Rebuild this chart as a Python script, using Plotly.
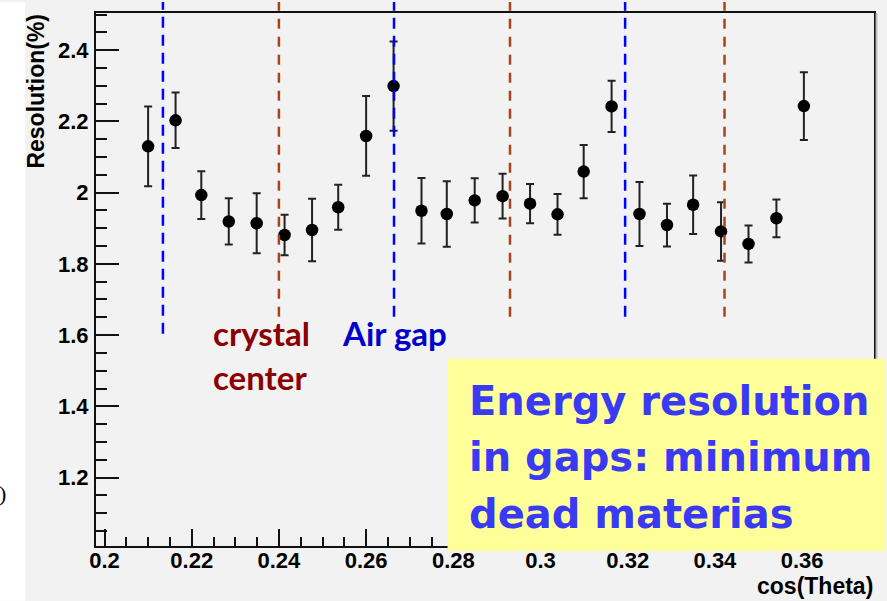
import plotly.graph_objects as go

# Energy resolution versus cos(Theta) across the barrel crystals
cos_theta = [0.2100, 0.2163, 0.2222, 0.2285, 0.2349, 0.2413, 0.2476, 0.2536, 0.2600, 0.2663,
             0.2727, 0.2785, 0.2849, 0.2913, 0.2976, 0.3039, 0.3099, 0.3163, 0.3227, 0.3290,
             0.3350, 0.3414, 0.3477, 0.3541, 0.3604]
resolution = [2.130, 2.203, 1.993, 1.919, 1.914, 1.881, 1.895, 1.959, 2.159, 2.299,
              1.949, 1.940, 1.978, 1.990, 1.969, 1.939, 2.059, 2.242, 1.940, 1.909,
              1.966, 1.891, 1.856, 1.928, 2.243]
resolution_err = [0.112, 0.078, 0.067, 0.065, 0.084, 0.057, 0.088, 0.063, 0.112, 0.125,
                  0.092, 0.092, 0.062, 0.063, 0.055, 0.057, 0.075, 0.072, 0.090, 0.060,
                  0.082, 0.082, 0.052, 0.053, 0.095]

# positions of the air gaps and of the crystal centres
air_gaps = [0.2134, 0.2664, 0.3194]
crystal_centres = [0.2400, 0.2930, 0.3422]

x_ticks = [0.20, 0.22, 0.24, 0.26, 0.28, 0.30, 0.32, 0.34, 0.36]
x_tick_labels = ["0.2", "0.22", "0.24", "0.26", "0.28", "0.3", "0.32", "0.34", "0.36"]
y_ticks = [1.2, 1.4, 1.6, 1.8, 2.0, 2.2, 2.4]
y_tick_labels = ["1.2", "1.4", "1.6", "1.8", "2", "2.2", "2.4"]

# canvas geometry (pixels)
W, H = 887, 601
ML, MR, MT, MB = 96, 12, 11, 55
PW, PH = W - ML - MR, H - MT - MB


def fx(p):
    """pixel column -> paper x"""
    return (p - ML) / PW


def fy(p):
    """pixel row -> paper y"""
    return (H - MB - p) / PH


BG = "#f2f2f2"
GAP_BLUE = "#0000ff"
CENTRE_BROWN = "#a9441a"

fig = go.Figure()
fig.add_trace(go.Scatter(
    x=cos_theta, y=resolution, mode="markers",
    marker=dict(symbol="circle", size=12.5, color="black"),
    error_y=dict(type="data", array=resolution_err, color="#222222", thickness=2, width=4),
    showlegend=False, hoverinfo="skip",
))

shapes = []
# white strip at the far left of the canvas
shapes.append(dict(type="rect", xref="paper", yref="paper", layer="below",
                   x0=fx(0), x1=fx(25), y0=fy(H), y1=fy(0),
                   fillcolor="white", line=dict(width=0)))
# dashed markers for gaps and crystal centres
for i, xg in enumerate(air_gaps):
    shapes.append(dict(type="line", xref="x", yref="paper", layer="above",
                       x0=xg, x1=xg, y0=fy(333 if i == 0 else 316), y1=fy(0),
                       line=dict(color=GAP_BLUE, width=2.5, dash="11px,7px")))
for xc in crystal_centres:
    shapes.append(dict(type="line", xref="x", yref="paper", layer="above",
                       x0=xc, x1=xc, y0=fy(316), y1=fy(0),
                       line=dict(color=CENTRE_BROWN, width=2.5, dash="10px,8px")))
# shadow on the right frame edge
shapes.append(dict(type="line", xref="paper", yref="paper", layer="above",
                   x0=fx(877.5), x1=fx(877.5), y0=fy(546), y1=fy(11),
                   line=dict(color="#bdbdbd", width=2)))
# yellow note box
shapes.append(dict(type="rect", xref="paper", yref="paper", layer="above",
                   x0=fx(448), x1=fx(887), y0=fy(551), y1=fy(358),
                   fillcolor="#ffff99", line=dict(width=0)))

annotations = []
axis_font = dict(family="Liberation Sans, Arial, sans-serif", size=23, color="black", weight="bold")
annotations.append(dict(text="Resolution(%)", xref="paper", yref="paper", showarrow=False,
                        x=fx(35), y=fy(10), xanchor="center", yanchor="top",
                        textangle=-90, font=axis_font))
annotations.append(dict(text="cos(Theta)", xref="paper", yref="paper", showarrow=False,
                        x=fx(876), y=fy(601), xanchor="right", yanchor="bottom",
                        font=axis_font))

label_font = dict(family="Lato, Calibri, sans-serif", size=33, weight="bold")
annotations.append(dict(text="crystal", xref="paper", yref="paper", showarrow=False,
                        x=fx(211), y=fy(332), xanchor="left", yanchor="middle",
                        font=dict(label_font, color="#8b0000")))
annotations.append(dict(text="center", xref="paper", yref="paper", showarrow=False,
                        x=fx(211), y=fy(376), xanchor="left", yanchor="middle",
                        font=dict(label_font, color="#8b0000")))
annotations.append(dict(text="Air gap", xref="paper", yref="paper", showarrow=False,
                        x=fx(340), y=fy(332), xanchor="left", yanchor="middle",
                        font=dict(label_font, color="#0000cc")))

note_font = dict(family="Comic Sans MS, DejaVu Sans, sans-serif", size=40,
                 color="#3a3af5", weight="bold")
for line, yc in [("Energy resolution", 400), ("in gaps: minimum", 457), ("dead materias", 514)]:
    annotations.append(dict(text=line, xref="paper", yref="paper", showarrow=False,
                            x=fx(467), y=fy(yc), xanchor="left", yanchor="middle",
                            font=note_font))

annotations.append(dict(text=")", xref="paper", yref="paper", showarrow=False,
                        x=fx(8), y=fy(493), xanchor="right", yanchor="middle",
                        font=dict(family="Liberation Serif, Times New Roman, serif",
                                  size=22, color="black")))

tick_font = dict(family="Liberation Sans, Arial, sans-serif", size=22, color="black", weight="bold")

fig.update_layout(
    width=W, height=H, autosize=False,
    margin=dict(l=ML, r=MR, t=MT, b=MB, pad=0),
    paper_bgcolor=BG, plot_bgcolor=BG,
    shapes=shapes, annotations=annotations,
    xaxis=dict(range=[0.19805, 0.37648], tickmode="array", tickvals=x_ticks, ticktext=x_tick_labels,
               ticks="inside", ticklen=17, tickwidth=2, tickcolor="#111111",
               showline=True, linecolor="#111111", linewidth=2, mirror=True,
               showgrid=False, zeroline=False, tickfont=tick_font, ticklabelstandoff=-6,
               minor=dict(tickmode="linear", tick0=0.2, dtick=0.005, ticks="inside",
                          ticklen=9, tickwidth=2, tickcolor="#111111", showgrid=False)),
    yaxis=dict(range=[1.0078, 2.5043], tickmode="array", tickvals=y_ticks, ticktext=y_tick_labels,
               ticks="inside", ticklen=23, tickwidth=2, tickcolor="#111111",
               showline=True, linecolor="#111111", linewidth=2, mirror=True,
               showgrid=False, zeroline=False, tickfont=tick_font, ticklabelstandoff=1,
               minor=dict(tickmode="linear", tick0=1.0, dtick=0.05, ticks="inside",
                          ticklen=11, tickwidth=2, tickcolor="#111111", showgrid=False)),
)

fig.write_html("out.html")
